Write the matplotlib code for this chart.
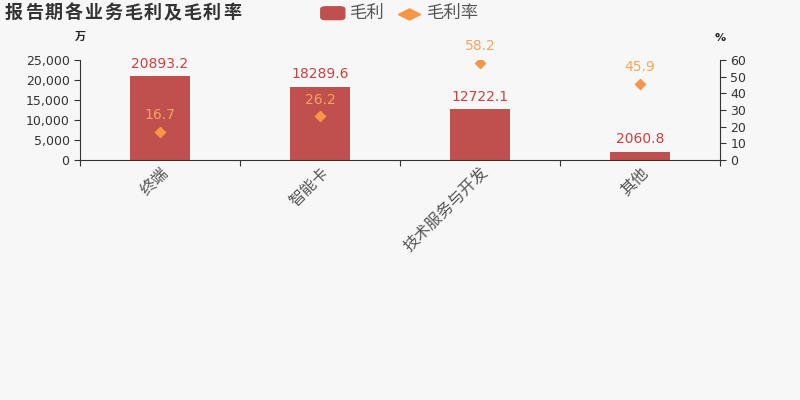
import matplotlib
matplotlib.use('Agg')
import matplotlib.pyplot as plt
from matplotlib.patches import FancyBboxPatch
from matplotlib.lines import Line2D

plt.rcParams['font.family'] = ['Noto Sans CJK SC', 'DejaVu Sans']

# data
categories = ['终端', '智能卡', '技术服务与开发', '其他']
gross_profit = [20893.2, 18289.6, 12722.1, 2060.8]   # 万
margin = [16.7, 26.2, 58.2, 45.9]                     # %
title = '报告期各业务毛利及毛利率'

bar_color = '#c0504d'
dot_color = '#f79646'
bg = '#f7f7f7'

fig = plt.figure(figsize=(8, 4), dpi=100, facecolor=bg)
ax = fig.add_axes([0.1, 0.6, 0.8, 0.25], facecolor=bg)
ax2 = ax.twinx()

x = list(range(len(categories)))
ax.bar(x, gross_profit, width=0.375, color=bar_color, zorder=2)
for xi, v in zip(x, gross_profit):
    ax.annotate(f'{v}', (xi, v), xytext=(0, 4), textcoords='offset points',
                ha='center', va='bottom', color='#c9423f', fontsize=10,
                family='DejaVu Sans')

ax2.scatter(x, margin, marker='D', s=26, color=dot_color, zorder=3)
for xi, v in zip(x, margin):
    ax2.annotate(f'{v}', (xi, v), xytext=(0, 7), textcoords='offset points',
                 ha='center', va='bottom', color='#f5a55c', fontsize=10,
                 family='DejaVu Sans')

ax.set_xlim(-0.5, 3.5)
ax.set_ylim(0, 25000)
ax.set_yticks([0, 5000, 10000, 15000, 20000, 25000])
ax.set_yticklabels([f'{t:,}' for t in [0, 5000, 10000, 15000, 20000, 25000]],
                   family='DejaVu Sans')
ax2.set_ylim(0, 60)
ax2.set_yticks([0, 10, 20, 30, 40, 50, 60])
ax2.set_yticklabels([str(t) for t in [0, 10, 20, 30, 40, 50, 60]], family='DejaVu Sans')

ax.set_xticks([-0.5, 0.5, 1.5, 2.5, 3.5])
ax.set_xticklabels([])
ax.set_xticks(x, minor=True)
ax.set_xticklabels(categories, minor=True, rotation=45, ha='right', va='top',
                   rotation_mode='anchor', fontsize=11.5, color='#555555',
                   fontweight='light')
ax.tick_params(axis='x', which='minor', length=0, pad=3)
ax.tick_params(axis='x', which='major', length=4, color='#333333')

for a in (ax, ax2):
    a.spines['top'].set_visible(False)
    a.tick_params(axis='y', labelsize=9, colors='#333333', length=4)
ax.spines['right'].set_visible(False)
ax2.spines['left'].set_visible(False)
ax.spines['bottom'].set_color('#333333')
ax.spines['left'].set_color('#333333')
ax2.spines['right'].set_color('#333333')
ax2.spines['bottom'].set_visible(False)

fig.text(0.1, 0.893, '万', ha='center', va='bottom', fontsize=8, fontweight='bold', color='#222222')
fig.text(0.9, 0.893, '%', ha='center', va='bottom', fontsize=8, fontweight='bold',
         color='#222222', family='DejaVu Sans')

# title with a little letter spacing
for i, ch in enumerate(title):
    fig.text((5 + i * 19.8) / 800, 0.968, ch, ha='left', va='center',
             fontsize=13, fontweight='bold', color='#333333')

# legend
box = FancyBboxPatch((0.401, 0.951), 0.030, 0.032, boxstyle='round,pad=0,rounding_size=0.006',
                     transform=fig.transFigure, color=bar_color)
fig.patches.append(box)
fig.text(0.438, 0.968, '毛利', ha='left', va='center', fontsize=12.5, color='#555555')
wide_diamond = [(-1, 0), (0, 0.5), (1, 0), (0, -0.5), (-1, 0)]
fig.lines.append(Line2D([0.511], [0.966], marker=wide_diamond, markersize=16, color=dot_color,
                        transform=fig.transFigure))
fig.text(0.534, 0.968, '毛利率', ha='left', va='center', fontsize=12.5, color='#555555')

fig.savefig('out.png', dpi=100, facecolor=bg)
